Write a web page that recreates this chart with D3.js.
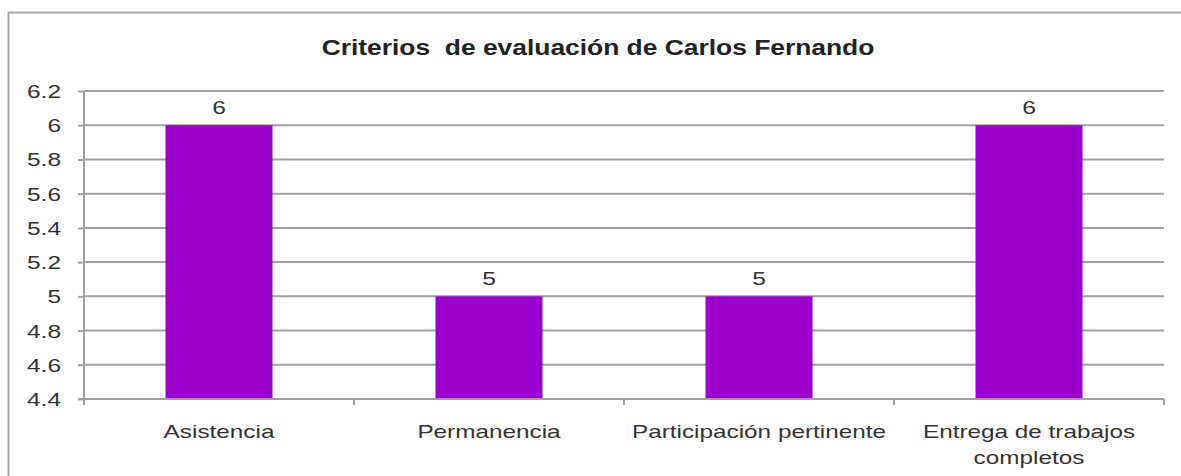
<!DOCTYPE html>
<html>
<head>
<meta charset="utf-8">
<script src="https://cdn.jsdelivr.net/npm/d3@7"></script>
<style>
  html, body { margin: 0; padding: 0; background: #fff; }
  svg { display: block; font-family: "Liberation Sans", Arial, sans-serif; }
</style>
</head>
<body>
<svg id="chart" width="1181" height="476"></svg>
<script>
const title = "Criterios  de evaluación de Carlos Fernando";
const categories = ["Asistencia", "Permanencia", "Participación pertinente", "Entrega de trabajos completos"];
const categoryLines = [["Asistencia"], ["Permanencia"], ["Participación pertinente"], ["Entrega de trabajos", "completos"]];
const values = [6, 5, 5, 6];
const yTicks = [4.4, 4.6, 4.8, 5, 5.2, 5.4, 5.6, 5.8, 6, 6.2];

const svg = d3.select("#chart");
const W = 1181, H = 476;
const m = { left: 84, right: 1164, top: 91, bottom: 399 };
const FONT = "'Liberation Sans', Arial, sans-serif";

// outer frame (cropped on right/bottom)
svg.append("rect").attr("x", 8.5).attr("y", 12.5).attr("width", W + 10).attr("height", H + 10)
  .attr("fill", "#fff").attr("stroke", "#a6a6a6").attr("stroke-width", 2);

const x = d3.scaleBand().domain(categories).range([m.left, m.right]).paddingInner(0).paddingOuter(0);
const y = d3.scaleLinear().domain([4.4, 6.2]).range([m.bottom, m.top]);

// gridlines
svg.append("g").selectAll("line").data(yTicks.slice(1)).join("line")
  .attr("x1", m.left).attr("x2", m.right)
  .attr("y1", d => y(d)).attr("y2", d => y(d))
  .attr("stroke", "#a0a0a0").attr("stroke-width", 2);

// y axis
const yAxis = d3.axisLeft(y).tickValues(yTicks).tickSize(6)
  .tickFormat(d => d3.format("")(+d.toFixed(1)));
const gy = svg.append("g").attr("transform", `translate(${m.left},0)`).call(yAxis);
gy.select(".domain").attr("stroke", "#a0a0a0").attr("stroke-width", 2).attr("d", `M0,${m.top}V${m.bottom}`);
gy.selectAll(".tick line").attr("stroke", "#a0a0a0").attr("stroke-width", 2);
gy.selectAll(".tick text")
  .attr("x", 0).attr("dy", "0.36em")
  .attr("transform", "translate(-23,0) scale(1.36,1)")
  .attr("text-anchor", "end")
  .attr("fill", "#333").style("font-size", "18px").style("font-family", FONT);

// bars
const barW = 107;
svg.append("g").selectAll("rect").data(values).join("rect")
  .attr("x", (d, i) => x(categories[i]) + x.bandwidth() / 2 - barW / 2)
  .attr("width", barW)
  .attr("y", d => y(d))
  .attr("height", d => y(4.4) - y(d))
  .attr("fill", "#9900cc");

// value labels
svg.append("g").selectAll("text").data(values).join("text")
  .attr("transform", (d, i) => `translate(${x(categories[i]) + x.bandwidth() / 2},${y(d) - 11}) scale(1.3,1)`)
  .attr("text-anchor", "middle")
  .attr("fill", "#333")
  .style("font-size", "19px")
  .text(d => d);

// x axis
const gx = svg.append("g").attr("transform", `translate(0,${m.bottom})`);
gx.append("line").attr("x1", m.left - 6).attr("x2", m.right).attr("y1", 0).attr("y2", 0)
  .attr("stroke", "#a0a0a0").attr("stroke-width", 2);
const boundaries = categories.map(c => x(c)).concat([m.right]);
gx.selectAll("line.tk").data(boundaries).join("line").attr("class", "tk")
  .attr("x1", d => d).attr("x2", d => d).attr("y1", 0).attr("y2", 6)
  .attr("stroke", "#a0a0a0").attr("stroke-width", 2);

const xl = svg.append("g");
categoryLines.forEach((lines, i) => {
  lines.forEach((ln, j) => {
    xl.append("text")
      .attr("transform", `translate(${x(categories[i]) + x.bandwidth() / 2},${438 + j * 26}) scale(1.28,1)`)
      .attr("text-anchor", "middle")
      .attr("fill", "#333")
      .style("font-size", "19px")
      .text(ln);
  });
});

// title
svg.append("text")
  .attr("transform", "translate(598,55) scale(1.2,1)")
  .attr("text-anchor", "middle")
  .attr("fill", "#222").style("font-size", "22px").style("font-weight", "bold")
  .attr("xml:space", "preserve")
  .text(title);
</script>
</body>
</html>
